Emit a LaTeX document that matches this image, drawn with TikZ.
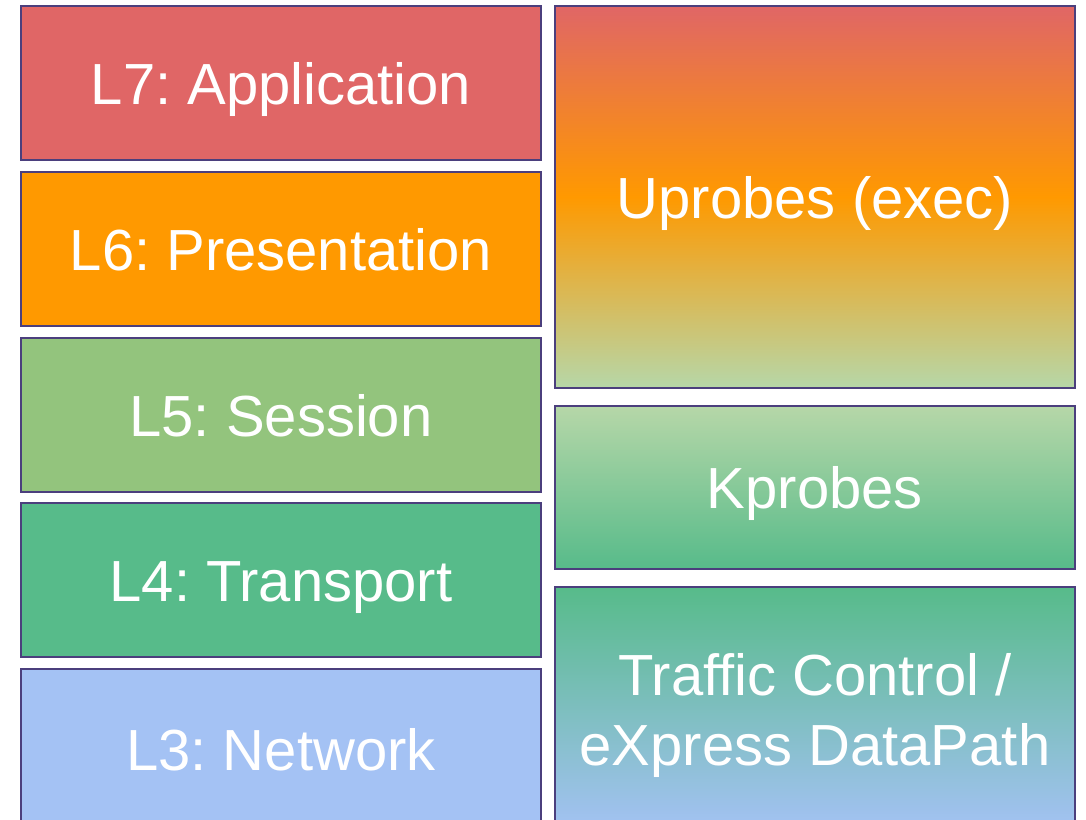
\documentclass[tikz,border=0pt]{standalone}
\usepackage{fontspec}
\setmainfont{Liberation Sans}
\frenchspacing
\definecolor{cRed}{HTML}{E06666}
\definecolor{cOrange}{HTML}{FF9900}
\definecolor{cLightGreen}{HTML}{B6D7A8}
\definecolor{cGreen}{HTML}{93C47D}
\definecolor{cTeal}{HTML}{57BB8A}
\definecolor{cBlue}{HTML}{A4C2F4}
\definecolor{cEdge}{HTML}{4B3F7D}
\tikzset{
  layer/.style={draw=cEdge, line width=2pt, text=white, inner sep=0pt,
    minimum width=520pt, font=\fontsize{58}{70}\selectfont, align=center,
    text height=42pt, text depth=0pt},
}
\begin{document}
\begin{tikzpicture}[x=1pt,y=-1pt]
\useasboundingbox (0,0) rectangle (1086,819);
\clip (0,0) rectangle (1086,819);
% OSI layers, left column
\node[layer, fill=cRed,    minimum height=154] (l7) at (281,83)    {L7: Application};
\node[layer, fill=cOrange, minimum height=154] (l6) at (281,249)   {L6: Presentation};
\node[layer, fill=cGreen,  minimum height=154] (l5) at (281,415)   {L5: Session};
\node[layer, fill=cTeal,   minimum height=154] (l4) at (281,580)   {L4: Transport};
\node[layer, fill=cBlue,   minimum height=160] (l3) at (281,749)   {L3: Network};
% probe mechanisms, right column
\node[layer, top color=cRed, bottom color=cLightGreen, middle color=cOrange,
      minimum height=382] (up) at (815,197) {Uprobes (exec)};
\node[layer, top color=cLightGreen, bottom color=cTeal,
      minimum height=163] (kp) at (815,487.5) {Kprobes};
\node[layer, top color=cTeal, bottom color=cBlue, text height=112pt,
      minimum height=244] (tc) at (815,709) {Traffic Control /\\eXpress DataPath};
\end{tikzpicture}
\end{document}
